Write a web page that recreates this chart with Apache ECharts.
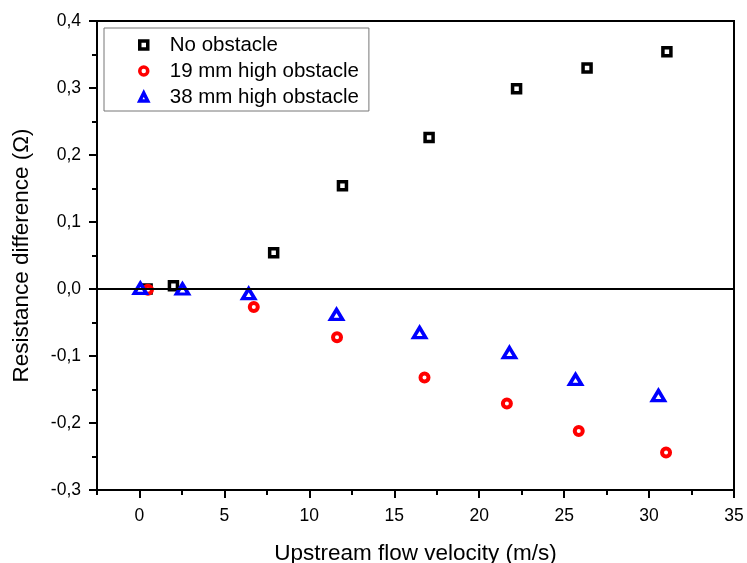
<!DOCTYPE html>
<html>
<head>
<meta charset="utf-8">
<script src="https://cdn.jsdelivr.net/npm/echarts@6/dist/echarts.min.js"></script>
<style>html,body{margin:0;padding:0;background:#fff}#c{width:747px;height:563px}</style>
</head>
<body>
<div id="c"></div>
<script>
const seriesNames = ['No obstacle', '19 mm high obstacle', '38 mm high obstacle'];
const noObstacleX = [0.45, 2.0, 7.9, 11.95, 17.05, 22.2, 26.35, 31.05];
const noObstacleY = [0.0, 0.005, 0.054, 0.154, 0.226, 0.299, 0.330, 0.354];
const obs19X = [0.5, 6.73, 11.63, 16.78, 21.63, 25.86, 31.0];
const obs19Y = [-0.001, -0.027, -0.072, -0.132, -0.171, -0.212, -0.244];
const obs38X = [0.05, 2.53, 6.43, 11.6, 16.49, 21.78, 25.67, 30.55];
const obs38Y = [0.001, 0.0, -0.007, -0.038, -0.065, -0.095, -0.135, -0.159];
const xMajorTicks = [0, 5, 10, 15, 20, 25, 30, 35];
const xRange = { min: -2.5, max: 35, minorInterval: 2.5 };
const yTicks = { min: -0.3, max: 0.4, interval: 0.1 };

function pairs(xs, ys) { return xs.map((x, i) => [x, ys[i]]); }

const font = 'Liberation Sans';
const chart = echarts.init(document.getElementById('c'));
chart.setOption({
  animation: false,
  backgroundColor: '#fff',
  grid: { left: 97, right: 13, top: 21, bottom: 73, show: true, borderColor: '#000', borderWidth: 2,
    containLabel: false, outerBoundsMode: 'none' },
  legend: {
    orient: 'vertical', left: 104, top: 28,
    padding: [6, 10, 3, 34],
    borderColor: '#777', borderWidth: 1,
    itemWidth: 8, itemHeight: 8, itemGap: 4,
    itemStyle: { borderWidth: 3.5 },
    textStyle: { fontFamily: font, fontSize: 20.5, color: '#000', lineHeight: 22, padding: [0, 0, 0, 17] },
    data: seriesNames
  },
  xAxis: [
    {
      type: 'value', min: xRange.min, max: xRange.max, interval: xRange.minorInterval,
      name: 'Upstream flow velocity (m/s)', nameLocation: 'middle', nameGap: 52,
      nameTextStyle: { fontFamily: font, fontSize: 22.5, color: '#000' },
      axisLine: { onZero: false, lineStyle: { color: '#000', width: 2 } },
      axisTick: { show: true, length: 5, lineStyle: { color: '#000', width: 2 } },
      splitLine: { show: false },
      axisLabel: { fontFamily: font, fontSize: 17.5, color: '#000', margin: 17,
        customValues: xMajorTicks }
    },
    {
      type: 'value', min: xRange.min, max: xRange.max, position: 'bottom',
      axisLine: { show: false, onZero: false },
      axisTick: { show: true, length: 8, customValues: xMajorTicks, lineStyle: { color: '#000', width: 2 } },
      splitLine: { show: false },
      axisLabel: { show: false }
    }
  ],
  yAxis: {
    type: 'value', min: yTicks.min, max: yTicks.max, interval: yTicks.interval,
    name: 'Resistance difference (Ω)', nameLocation: 'middle', nameGap: 64,
    nameTextStyle: { fontFamily: font, fontSize: 22.5, color: '#000' },
    axisLine: { onZero: false, lineStyle: { color: '#000', width: 2 } },
    axisTick: { show: true, length: 8, lineStyle: { color: '#000', width: 2 } },
    minorTick: { show: true, splitNumber: 2, length: 5, lineStyle: { color: '#000', width: 2 } },
    splitLine: { show: false },
    axisLabel: { fontFamily: font, fontSize: 17.5, color: '#000', margin: 16,
      formatter: v => v.toFixed(1).replace('.', ',') }
  },
  series: [
    {
      name: seriesNames[0], type: 'scatter', symbol: 'rect', symbolSize: 8,
      itemStyle: { color: '#fff', borderColor: '#000', borderWidth: 3.5, opacity: 1 },
      data: pairs(noObstacleX, noObstacleY), z: 2,
      markLine: {
        silent: true, symbol: 'none', label: { show: false },
        lineStyle: { color: '#000', width: 2, type: 'solid' },
        data: [{ yAxis: 0 }]
      }
    },
    {
      name: seriesNames[1], type: 'scatter', symbol: 'circle', symbolSize: 8,
      itemStyle: { color: '#fff', borderColor: '#ff0000', borderWidth: 4, opacity: 1 },
      data: pairs(obs19X, obs19Y), z: 3
    },
    {
      name: seriesNames[2], type: 'scatter', symbol: 'triangle', symbolSize: [12, 10],
      itemStyle: { color: '#fff', borderColor: '#0000ff', borderWidth: 3.5, opacity: 1 },
      data: pairs(obs38X, obs38Y), z: 4
    }
  ]
});
</script>
</body>
</html>
